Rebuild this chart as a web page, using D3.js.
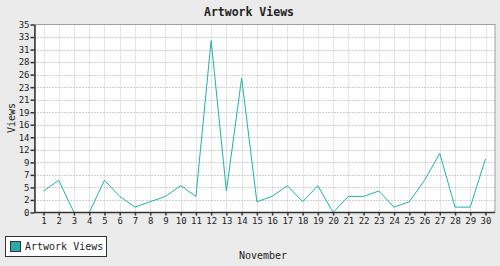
<!DOCTYPE html>
<html>
<head>
<meta charset="utf-8">
<script src="https://cdn.jsdelivr.net/npm/d3@7"></script>
<style>
  body { margin: 0; background: #ebebeb; }
  text { font-family: "DejaVu Sans Mono", monospace; fill: #222; }
</style>
</head>
<body>
<div id="chart"></div>
<script>
const days = d3.range(1, 31);
const views = [4, 6, 0, 0, 6, 3, 1, 2, 3, 5, 3, 32, 4, 25, 2, 3, 5, 2, 5, 0,
               3, 3, 4, 1, 2, 6, 11, 1, 1, 10];
const yTickLabels = ["0", "2", "5", "7", "9", "12", "14", "16", "19", "21",
                     "23", "26", "28", "31", "33", "35"];

const width = 500;
const height = 266;
const margin = {top: 24.5, left: 34.5, right: 5, bottom: 53.5};

const svg = d3.select("#chart")
    .append("svg")
    .attr("width", width)
    .attr("height", height);

svg.append("rect")
    .attr("width", width).attr("height", height)
    .attr("fill", "#ebebeb");

const xScale = d3.scaleLinear()
    .domain([1, 30])
    .range([43.5, 485.5]);
const yScale = d3.scaleLinear()
    .domain([0, 35])
    .range([height - margin.bottom, margin.top]);

const yTicks = yTickLabels.map((d, i) => i * 35 / 15);

// plot background
svg.append("rect")
    .attr("x", margin.left)
    .attr("y", margin.top)
    .attr("width", width - margin.right - margin.left)
    .attr("height", height - margin.bottom - margin.top)
    .attr("fill", "#ffffff")
    .attr("stroke", "#a0a0a0");

// vertical grid
svg.append("g")
    .selectAll("line")
    .data(days)
    .enter()
    .append("line")
        .attr("x1", d => Math.round(xScale(d)) + 0.5)
        .attr("x2", d => Math.round(xScale(d)) + 0.5)
        .attr("y1", margin.top + 0.5)
        .attr("y2", height - margin.bottom)
        .attr("stroke", "#e6e6e6");

// horizontal dotted grid
svg.append("g")
    .selectAll("line")
    .data(yTicks.slice(1, -1))
    .enter()
    .append("line")
        .attr("x1", margin.left)
        .attr("x2", width - margin.right)
        .attr("y1", d => Math.round(yScale(d)) + 0.5)
        .attr("y2", d => Math.round(yScale(d)) + 0.5)
        .attr("stroke", "#a0a0a0")
        .attr("stroke-dasharray", "1,2");

const line = d3.line()
    .x((d, i) => xScale(days[i]))
    .y(d => yScale(d));

svg.append("path")
    .datum(views)
    .attr("d", line)
    .attr("fill", "none")
    .attr("stroke", "#20b2aa")
    .attr("stroke-width", 1);

const xAxis = svg.append("g")
    .attr("transform", `translate(0,${height - margin.bottom})`)
    .call(d3.axisBottom(xScale).tickValues(days).tickSize(3).tickPadding(2).tickSizeOuter(0));
xAxis.select(".domain").attr("d", `M${margin.left},0H${width - margin.right}`);

const yAxis = svg.append("g")
    .attr("transform", `translate(${margin.left},0)`)
    .call(d3.axisLeft(yScale).tickValues(yTicks)
        .tickFormat((d, i) => yTickLabels[i]).tickSize(4).tickPadding(1).tickSizeOuter(0));

svg.selectAll(".domain, .tick line").attr("stroke", "#333").attr("stroke-width", 1.5);
svg.selectAll(".tick text")
    .attr("font-family", "DejaVu Sans Mono")
    .attr("font-size", 9)
    .attr("fill", "#222");

svg.append("text")
    .attr("x", 249)
    .attr("y", 16)
    .attr("text-anchor", "middle")
    .attr("font-size", 11.5)
    .attr("font-weight", "bold")
    .text("Artwork Views");

svg.append("text")
    .attr("transform", "rotate(-90)")
    .attr("x", -118)
    .attr("y", 15)
    .attr("text-anchor", "middle")
    .attr("font-size", 10)
    .text("Views");

svg.append("text")
    .attr("x", 263)
    .attr("y", 259)
    .attr("text-anchor", "middle")
    .attr("font-size", 10)
    .text("November");

// legend
const legend = svg.append("g");
legend.append("rect")
    .attr("x", 5.5).attr("y", 236.5)
    .attr("width", 101).attr("height", 20)
    .attr("fill", "#ffffff")
    .attr("stroke", "#333");
legend.append("rect")
    .attr("x", 10.5).attr("y", 241.5)
    .attr("width", 10).attr("height", 10)
    .attr("fill", "#2aabab")
    .attr("stroke", "#333");
legend.append("text")
    .attr("x", 25)
    .attr("y", 250)
    .attr("font-size", 10)
    .text("Artwork Views");
</script>
</body>
</html>
